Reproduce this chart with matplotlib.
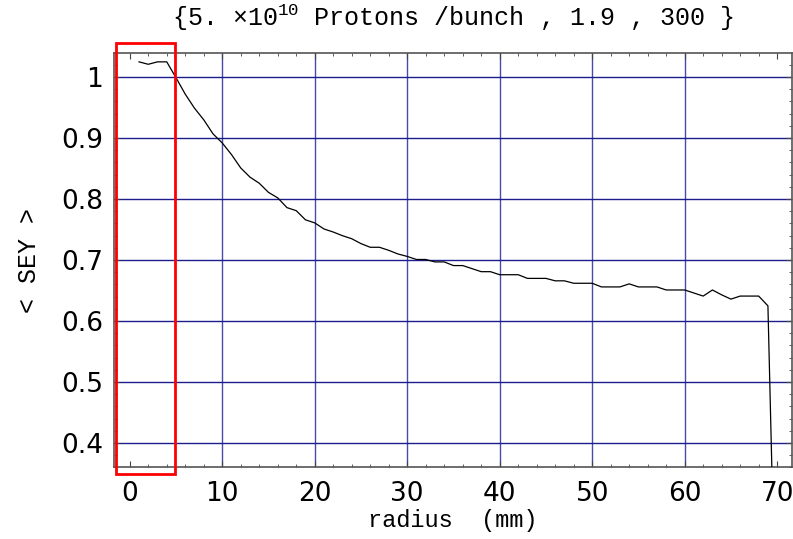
import matplotlib
matplotlib.use('Agg')
import matplotlib.pyplot as plt
from matplotlib.patches import Rectangle
from matplotlib.ticker import MultipleLocator

# radius in mm, averaged SEY
radius = list(range(1, 71))
sey = [1.025, 1.021, 1.025, 1.025, 0.999, 0.972, 0.949, 0.930, 0.907, 0.892,
       0.873, 0.851, 0.836, 0.826, 0.811, 0.802, 0.786, 0.781, 0.766, 0.761,
       0.751, 0.746, 0.740, 0.735, 0.727, 0.721, 0.721, 0.716, 0.710, 0.706,
       0.701, 0.701, 0.697, 0.697, 0.691, 0.691, 0.686, 0.681, 0.681, 0.676,
       0.676, 0.676, 0.670, 0.670, 0.670, 0.666, 0.666, 0.662, 0.662, 0.662,
       0.656, 0.656, 0.656, 0.661, 0.656, 0.656, 0.656, 0.651, 0.651, 0.651,
       0.646, 0.641, 0.651, 0.643, 0.636, 0.641, 0.641, 0.641, 0.625, 0.0]

xticks = [0, 10, 20, 30, 40, 50, 60, 70]
yticks = [0.4, 0.5, 0.6, 0.7, 0.8, 0.9, 1.0]
ylabels = ['0.4', '0.5', '0.6', '0.7', '0.8', '0.9', '1']

# highlighted region (radius 0..5)
box_x = (-1.48, 4.9)
box_y = (0.35, 1.056)

plt.rcParams['mathtext.fontset'] = 'custom'
plt.rcParams['mathtext.rm'] = 'Liberation Mono'

fig = plt.figure(figsize=(7.93, 5.39), dpi=100)
ax = fig.add_axes([0.1438, 0.1327, 0.8549, 0.7684])

for gx in xticks[1:-1]:
    ax.axvline(gx, color='#4a4aab', lw=1.0, zorder=1)
for gy in yticks:
    ax.axhline(gy, color='#1c1c8c', lw=1.0, zorder=1)

ax.plot(radius, sey, color='black', lw=0.9, zorder=3)

ax.set_xlim(-1.7, 71.6)
ax.set_ylim(0.36, 1.039)
ax.set_xticks(xticks)
ax.set_yticks(yticks)
ax.set_yticklabels(ylabels)
ax.xaxis.set_minor_locator(MultipleLocator(2))
ax.yaxis.set_minor_locator(MultipleLocator(0.02))
ax.tick_params(which='both', direction='in', top=True, right=True, color='#444444')
ax.tick_params(which='major', length=4, labelsize=19)
ax.tick_params(axis='x', which='major', pad=10)
ax.tick_params(axis='y', which='major', pad=8)
ax.tick_params(which='minor', length=2.5)
for s in ax.spines.values():
    s.set_color('#555555')
    s.set_linewidth(1.2)

ax.add_patch(Rectangle((box_x[0], box_y[0]), box_x[1] - box_x[0], box_y[1] - box_y[0],
                       fill=False, edgecolor='red', lw=2, clip_on=False, zorder=5))

ax.set_title(r'{5. $\times$10$^{10}$ Protons /bunch , 1.9 , 300 }',
             family='Liberation Mono', fontsize=18, pad=20)
ax.set_xlabel('radius  (mm)', family='Liberation Mono', fontsize=17, labelpad=1)
ax.set_ylabel('< SEY >', family='Liberation Mono', fontsize=18, labelpad=14)

plt.savefig('out.png', dpi=100)
